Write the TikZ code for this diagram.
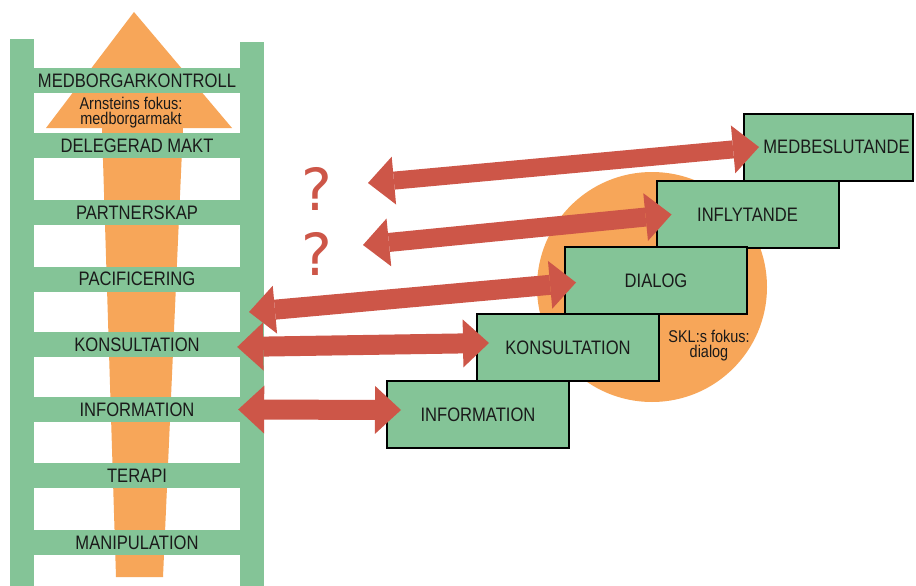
\documentclass[tikz,border=0pt]{standalone}
\usepackage{fontspec}
\setmainfont{Liberation Sans}[FakeStretch=0.85]
\newfontfamily\qfont{DejaVu Sans}
\usetikzlibrary{arrows.meta}
\definecolor{ladgreen}{HTML}{84C497}
\definecolor{orangeA}{HTML}{F7A659}
\definecolor{redA}{HTML}{CD5648}
\definecolor{inkA}{HTML}{1A1A1A}
\tikzset{
  rung/.style={fill=ladgreen, minimum width=206pt, minimum height=25pt, inner sep=0pt,
    text=inkA, font=\fontsize{19.5}{20}\selectfont},
  stepbox/.style={draw=black, line width=2pt, fill=ladgreen, minimum width=182pt,
    minimum height=67pt, inner sep=0pt, text=inkA, font=\fontsize{19.5}{20}\selectfont},
  bigarrow/.style={redA, line width=20pt,
    {Triangle[length=26pt,width=48pt,line width=0pt]}-{Triangle[length=26pt,width=48pt,line width=0pt]}},
  qmark/.style={text=redA, font=\qfont\fontsize{58}{58}\selectfont, inner sep=0pt},
  smalltext/.style={text=inkA, align=center, inner sep=0pt,
    font=\fontsize{17}{15.5}\selectfont}
}
\begin{document}
\begin{tikzpicture}[x=1pt,y=-1pt]
\useasboundingbox (0,0) rectangle (916,586);
\fill[white] (0,0) rectangle (916,586);
% orange arrow behind the ladder
\fill[orangeA] (134,12) -- (232,128) -- (183,128) -- (163,577) -- (116,577) -- (102,128) -- (46,128) -- cycle;
% ladder rails
\fill[ladgreen] (10,39) rectangle (34,586);
\fill[ladgreen] (240,42) rectangle (264,586);
% rungs
\node[rung] (r1) at (137,81) {MEDBORGARKONTROLL};
\node[rung] (r2) at (137,145.5) {DELEGERAD MAKT};
\node[rung] (r3) at (137,212.5) {PARTNERSKAP};
\node[rung] (r4) at (137,279) {PACIFICERING};
\node[rung] (r5) at (137,344.5) {KONSULTATION};
\node[rung] (r6) at (137,409.5) {INFORMATION};
\node[rung] (r7) at (137,475.5) {TERAPI};
\node[rung] (r8) at (137,542.5) {MANIPULATION};
\node[smalltext] (arn) at (131,112.5) {Arnsteins fokus:\\medborgarmakt};
% orange circle
\fill[orangeA] (652,287) circle (115);
% stairs
\node[stepbox, minimum width=169pt] (medB) at (828.5,147) {};
\node[text=inkA, inner sep=0pt, font=\fontsize{19.5}{20}\selectfont] (medT) at (836.5,147) {MEDBESLUTANDE};
\node[stepbox] (inflB) at (747.5,214.5) {INFLYTANDE};
\node[stepbox] (dialB) at (656,280.5) {DIALOG};
\node[stepbox] (konsB) at (568,347.5) {KONSULTATION};
\node[stepbox] (infoB) at (478,414.5) {INFORMATION};
\node[smalltext] (skl) at (709,345.5) {SKL:s fokus:\\dialog};
% question marks
\node[qmark] (q1m) at (317,189) {?};
\node[qmark] (q2m) at (317,254) {?};
% free ends of arrows
\coordinate (q1) at (368,183);
\coordinate (q2) at (363,245);
\coordinate (p4) at (249,312);
% red double arrows
\draw[bigarrow, line width=18pt] (q1) -- ([xshift=16pt]medB.west);
\draw[bigarrow, line width=19pt] (q2) -- ([xshift=16pt]inflB.west);
\draw[bigarrow] (p4) -- ([xshift=12pt,yshift=-2pt]dialB.west);
\draw[bigarrow] ([xshift=-3pt,yshift=-2.5pt]r5.east) -- ([xshift=13pt,yshift=4.5pt]konsB.west);
\draw[bigarrow] ([xshift=-2pt]r6.east) -- ([xshift=15pt,yshift=4.5pt]infoB.west);
\end{tikzpicture}
\end{document}
